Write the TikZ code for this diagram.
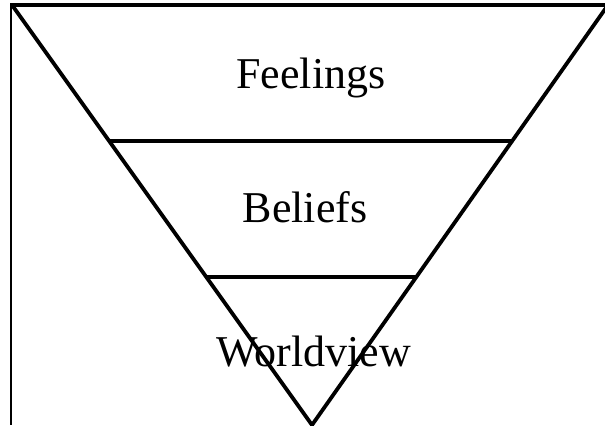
\documentclass[tikz,border=0pt]{standalone}
\usepackage{fontspec}
\setmainfont{Liberation Serif}
\usetikzlibrary{calc}

\begin{document}
\begin{tikzpicture}[
x=0.5pt, y=-0.5pt,
edge/.style={line width=1.9pt},
frame/.style={line width=1pt},
layer/.style={font=\fontsize{22}{26}\selectfont, inner sep=0pt, anchor=base}
]
\useasboundingbox (0,0) rectangle (605,425);

% outer corner of the page
\draw[frame] (11,5) -- (11,425);
\draw[edge] (10,5) -- (605,5);

% the funnel
\coordinate (tl) at (12,5);
\coordinate (tr) at (608,5);
\coordinate (apex) at (312,425);
\draw[edge] (tl) -- (apex) -- (tr);

\coordinate (l1) at ($(tl)!0.324!(apex)$);
\coordinate (r1) at ($(tr)!0.324!(apex)$);
\coordinate (l2) at ($(tl)!0.648!(apex)$);
\coordinate (r2) at ($(tr)!0.648!(apex)$);
\draw[edge] (l1) -- (r1);
\draw[edge] (l2) -- (r2);

\node[layer] (feel) at (311,88) {Feelings};
\node[layer] (belief) at (305,222) {Beliefs};
\node[layer] (world) at (314,366) {Worldview};
\end{tikzpicture}
\end{document}
